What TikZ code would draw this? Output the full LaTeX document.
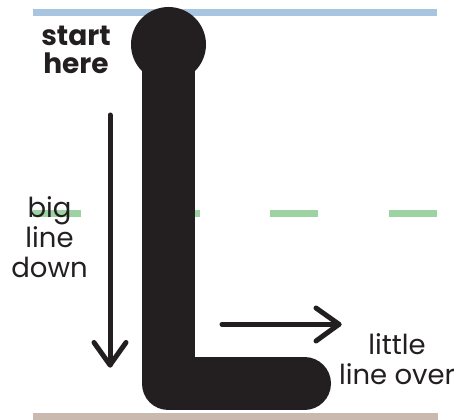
\documentclass[tikz,border=0pt]{standalone}
\usepackage{fontspec}
\setmainfont{Poppins}
\definecolor{topblue}{HTML}{A7C4E0}
\definecolor{midgreen}{HTML}{9DD3A2}
\definecolor{floorbrown}{HTML}{C9B9AF}
\definecolor{ink}{HTML}{231F20}
\begin{document}
\begin{tikzpicture}[x=1pt,y=-1pt,
  guide/.style={line width=7pt},
  bigstroke/.style={draw=ink,line width=53pt,line cap=round,line join=round},
  thinarrow/.style={draw=ink,line width=5pt,line cap=round,line join=round},
  lbl/.style={inner sep=0pt,align=center,text=ink,anchor=base,font=\fontsize{27.5}{30}\selectfont},
  boldlbl/.style={lbl,font=\fontsize{28}{28.5}\selectfont\bfseries}]
\useasboundingbox (0,0) rectangle (464,420);
% guide lines
\coordinate (bl) at (33,12.5); \coordinate (br) at (437,12.5);
\coordinate (gl) at (33,213.7); \coordinate (gr) at (438,213.7);
\coordinate (fl) at (33,416); \coordinate (fr) at (438,416);
\draw[guide,topblue] (bl) -- (br);
\draw[guide,midgreen,dash pattern=on 48pt off 70.5pt] (gl) -- (gr);
\draw[guide,floorbrown] (fl) -- (fr);
% labels
\node[boldlbl] (start) at (76,74) {start\\here};
\node[lbl] (big) at (49.5,277.3) {big\\line\\down};
\node[lbl] (little) at (397,384) {little\\line over};
% the big L
\coordinate (ltop) at (168,50);
\coordinate (lcorner) at (168,383.5);
\coordinate (lend) at (304.5,383.5);
\draw[bigstroke] (ltop) -- (lcorner) -- (lend);
\node[circle,fill=ink,minimum size=75pt,inner sep=0pt] (head) at (168.5,44.5) {};
% down arrow
\coordinate (da) at (110,115);
\coordinate (db) at (110,365);
\coordinate (dl) at (94,342.5);
\coordinate (dr) at (126,342.5);
\draw[thinarrow] (da) -- (db);
\draw[thinarrow] (dl) -- (db) -- (dr);
% over arrow
\coordinate (oa) at (222,324.3);
\coordinate (ob) at (339,324.3);
\coordinate (ou) at (316,308);
\coordinate (od) at (316,341);
\draw[thinarrow] (oa) -- (ob);
\draw[thinarrow] (ou) -- (ob) -- (od);
\end{tikzpicture}
\end{document}
